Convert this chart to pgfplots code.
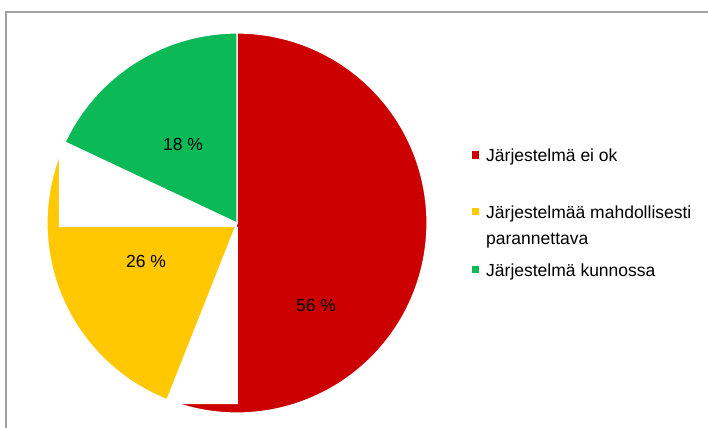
\documentclass[border=0pt]{standalone}
\usepackage{pgfplots}
\pgfplotsset{compat=1.18}
\usepackage{fontspec}
\setmainfont{Liberation Sans}
\definecolor{pred}{RGB}{204,0,0}
\definecolor{pyel}{RGB}{255,200,0}
\definecolor{pgrn}{RGB}{11,185,86}
\definecolor{pframe}{RGB}{160,160,160}
\begin{document}
\begin{tikzpicture}[x=1bp,y=1bp]
% shares (percent)
\def\vA{56}\def\vB{26}\def\vC{18}
\pgfmathsetmacro\aA{90}
\pgfmathsetmacro\aB{90-3.6*\vA}
\pgfmathsetmacro\aC{\aB-3.6*\vB}
\pgfmathsetmacro\aD{\aC-3.6*\vC}
\fill[white] (0,0) rectangle (708,-427);
\draw[pframe, line width=1.5bp] (6,-440) -- (6,-12) -- (720,-12);
\begin{axis}[
  at={(237bp,-223bp)}, anchor=origin,
  scale only axis, width=380bp, height=380bp,
  xmin=-1, xmax=1, ymin=-1, ymax=1,
  hide axis, clip=false,
]
\addplot[draw=white, line width=1.2bp, fill=pred, domain=\aB:\aA, samples=120] ({cos(x)},{sin(x)}) -- (axis cs:0,0) -- cycle;
\addplot[draw=white, line width=1.2bp, fill=pyel, domain=\aC:\aB, samples=80] ({cos(x)},{sin(x)}) -- (axis cs:0,0) -- cycle;
\addplot[draw=white, line width=1.2bp, fill=pgrn, domain=\aD:\aC, samples=60] ({cos(x)},{sin(x)}) -- (axis cs:0,0) -- cycle;
% white patches of the reference rendering
\addplot[fill=white, draw=none] coordinates {(0,-0.021) (-0.937,-0.021) (-0.937,0.349) (-0.925,0.38) (-0.905,0.426) (0,0)} -- cycle;
\addplot[fill=white, draw=none] coordinates {(0.004,-0.021) (0.004,-0.953) (-0.303,-0.953) (-0.335,-0.942) (-0.368,-0.930) (-0.0083,-0.021)} -- cycle;
\node[font=\fontsize{17.5bp}{21bp}\selectfont] at (axis cs:0.416,-0.432) {56 \%};
\node[font=\fontsize{17.5bp}{21bp}\selectfont] at (axis cs:-0.479,-0.205) {26 \%};
\node[font=\fontsize{17.5bp}{21bp}\selectfont] at (axis cs:-0.284,0.411) {18 \%};
\end{axis}
\fill[pred] (471.5,-151) rectangle (479,-158.5);
\fill[pyel] (471.5,-207.5) rectangle (479,-215);
\fill[pgrn] (471.5,-265.5) rectangle (479,-273);
\begin{scope}[every node/.style={anchor=base west, inner sep=0pt, font=\fontsize{17.5bp}{21bp}\selectfont}]
\node at (486,-161) {Järjestelmä ei ok};
\node at (486,-218) {Järjestelmää mahdollisesti};
\node at (486,-244) {parannettava};
\node at (486,-276) {Järjestelmä kunnossa};
\end{scope}
\pgfresetboundingbox
\path[use as bounding box] (0,0) rectangle (708,-427);
\end{tikzpicture}%
\end{document}
